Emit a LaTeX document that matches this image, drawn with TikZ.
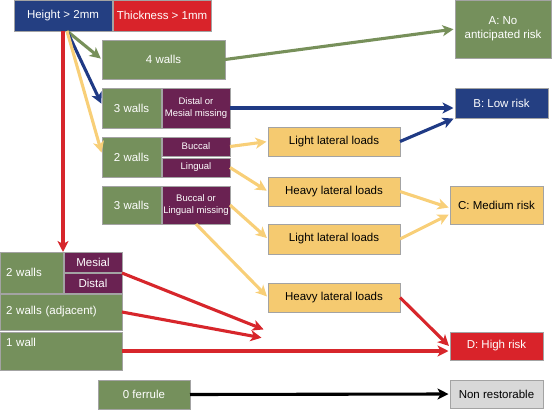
\documentclass[tikz,border=0pt]{standalone}
\usepackage{fontspec}
\setmainfont{Liberation Sans}
\usetikzlibrary{positioning,arrows.meta}
\definecolor{hgtblue}{HTML}{243F82}
\definecolor{thkred}{HTML}{D9232A}
\definecolor{wallgreen}{HTML}{75905C}
\definecolor{sidepurple}{HTML}{6A2252}
\definecolor{loadyellow}{HTML}{F5CA70}
\definecolor{nrgray}{HTML}{D8D8D8}
\definecolor{boxgray}{HTML}{A3A3A3}
\definecolor{arryellow}{HTML}{F8CF78}
\definecolor{arrgreen}{HTML}{77905A}
\definecolor{arrblue}{HTML}{1F3A85}
\definecolor{arrred}{HTML}{D7262B}

\begin{document}
\begin{tikzpicture}[x=1pt, y=-1pt,
      every node/.style={font=\fontsize{11.5}{14}\selectfont},
      box/.style={
        draw=boxgray, line width=0.8pt,
        inner sep=1pt, outer sep=0pt,
        align=center, anchor=north west
      },
      wallbox/.style={box, fill=wallgreen, text=white},
      sidebox/.style={box, fill=sidepurple, text=white,
        font=\fontsize{9.5}{11.5}\selectfont, minimum width=68pt},
      loadbox/.style={box, fill=loadyellow, text=black,
        minimum width=132pt, minimum height=29pt},
      riskbox/.style={box, minimum width=93pt},
      link/.style={line width=3.1pt, shorten >=1.5pt,
        -{Stealth[length=11pt, width=11pt, inset=3pt]}}
    ]
      \useasboundingbox (0,0) rectangle (555,410);

      % top condition
      \node[box, fill=hgtblue, text=white, minimum width=98pt, minimum height=31pt] (hgt) at (14,0) {Height > 2mm};
      \node[box, fill=thkred, text=white, minimum width=98pt, minimum height=31pt, right=1pt of hgt.north east, anchor=north west] (thk) {Thickness > 1mm};

      % wall configurations
      \node[wallbox, minimum width=123pt, minimum height=39pt] (w4) at (102,40) {4 walls};
      \node[wallbox, minimum width=59pt, minimum height=40pt] (w3) at (102,88) {3 walls};
      \node[sidebox, minimum height=40pt, right=1pt of w3.north east, anchor=north west] (dm) {Distal or\\Mesial missing};
      \node[wallbox, minimum width=59pt, minimum height=40pt] (w2) at (102,137) {2 walls};
      \node[sidebox, minimum height=19pt] (bucc) at (162,137) {Buccal};
      \node[sidebox, minimum height=19pt] (ling) at (162,158) {Lingual};
      \node[wallbox, minimum width=59pt, minimum height=38pt] (w3b) at (102,186) {3 walls};
      \node[sidebox, minimum height=38pt, right=1pt of w3b.north east, anchor=north west] (blm) {Buccal or\\Lingual missing};

      % left column
      \node[wallbox, minimum height=41pt, text width=51pt, inner xsep=6pt, align=left] (w2l) at (0,252) {2 walls};
      \node[box, fill=sidepurple, text=white, minimum width=58pt, minimum height=20pt] (mes) at (64,252) {Mesial};
      \node[box, fill=sidepurple, text=white, minimum width=58pt, minimum height=20pt] (dist) at (64,273) {Distal};
      \node[wallbox, minimum height=36pt, text width=110pt, inner xsep=6pt, align=left] (w2adj) at (0,294) {2 walls (adjacent)};
      \node[wallbox, minimum height=38pt, text width=110pt, inner xsep=6pt, inner ysep=5pt, align=left] (w1) at (0,332) {1 wall\\ \strut};
      \node[wallbox, minimum width=92pt, minimum height=29pt] (ferr) at (98,380) {0 ferrule};

      % lateral loads
      \node[loadbox] (lightA) at (268,127) {Light lateral loads};
      \node[loadbox] (heavyA) at (268,177) {Heavy lateral loads};
      \node[loadbox, minimum height=30pt] (lightB) at (268,224) {Light lateral loads};
      \node[loadbox] (heavyB) at (268,283) {Heavy lateral loads};

      % outcomes
      \node[riskbox, fill=wallgreen, text=white, minimum width=96pt, minimum height=58pt] (riskA) at (455,0) {A: No\\anticipated risk};
      \node[riskbox, fill=hgtblue, text=white, minimum height=30pt] (riskB) at (455,88) {B: Low risk};
      \node[riskbox, fill=loadyellow, text=black, minimum height=38pt] (riskC) at (450,186) {C: Medium risk};
      \node[riskbox, fill=thkred, text=white, minimum height=28pt] (riskD) at (450,332) {D: High risk};
      \node[riskbox, fill=nrgray, text=black, minimum height=28pt] (nonres) at (450,380) {Non restorable};

      \coordinate (endA) at (265,330);
      \coordinate (endB) at (263,338);

      % connectors
      \draw[link, arrred, shorten >=0pt] (hgt.south) -- (w2l.north east);
      \draw[link, arrgreen] ([xshift=4pt]hgt.south) -- (w4.west);
      \draw[link, arrblue] ([xshift=4pt]hgt.south) -- ([yshift=3pt]w3.west);
      \draw[link, arryellow] ([xshift=4pt]hgt.south) -- ([yshift=3pt]w2.west);

      \draw[link, arrgreen] (w4.east) -- (riskA.west);
      \draw[link, arrblue] (dm.east) -- (dm.east -| riskB.west);
      \draw[link, arrblue] (lightA.east) -- (riskB.south west);

      \draw[link, arryellow] (bucc.east) -- (lightA.west);
      \draw[link, arryellow] (ling.east) -- (heavyA.west);
      \draw[link, arryellow] (blm.east) -- (lightB.west);
      \draw[link, arryellow] (blm.south) -- (heavyB.west);
      \draw[link, arryellow] (heavyA.east) -- ([yshift=-3pt]riskC.west);
      \draw[link, arryellow] (lightB.east) -- ([yshift=-9pt]riskC.west);

      \draw[link, arrred] (dist.north east) -- (endA);
      \draw[link, arrred] (w2adj.east) -- (endB);
      \draw[link, arrred] (w1.east) -- (w1.east -| riskD.west);
      \draw[link, arrred] (heavyB.east) -- ([yshift=-1pt]riskD.west);
      \draw[link, black] (ferr.east) -- (nonres.west);
    \end{tikzpicture}
\end{document}
